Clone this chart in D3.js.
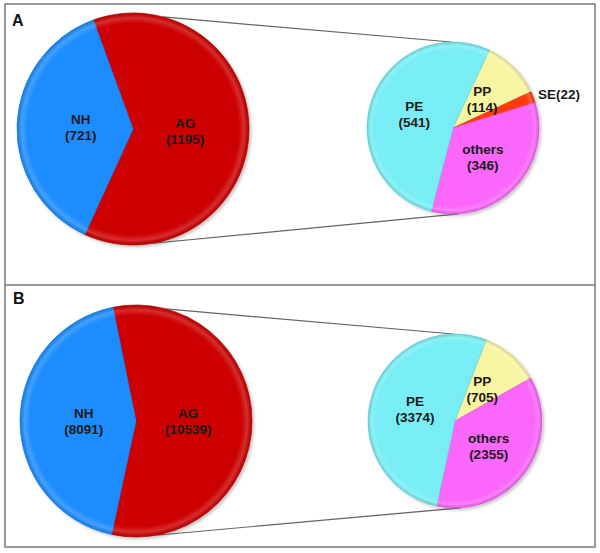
<!DOCTYPE html>
<html>
<head>
<meta charset="utf-8">
<script src="https://cdn.jsdelivr.net/npm/d3@7"></script>
<style>
  body { margin: 0; background: #fff; }
  svg text { font-family: "Liberation Sans", Arial, sans-serif; }
</style>
</head>
<body>
<div id="chart"></div>
<script>
// panel A
const mainLabelsA = ['AG', 'NH'];
const mainValuesA = [1195, 721];
const subLabelsA = ['PP', 'SE', 'others', 'PE'];
const subValuesA = [114, 22, 346, 541];

// panel B
const mainLabelsB = ['AG', 'NH'];
const mainValuesB = [10539, 8091];
const subLabelsB = ['PP', 'others', 'PE'];
const subValuesB = [705, 2355, 3374];

const panelNames = ['A', 'B'];

document.addEventListener('DOMContentLoaded', function () {
  const w = 600, h = 553;
  const colors = {
    AG: '#cc0000', NH: '#1a8cff',
    PE: '#78eef4', PP: '#f8f5a2', SE: '#ff3a0a', others: '#fb66fb'
  };

  let svg = d3.select('#chart')
    .append('svg')
    .attr('width', w)
    .attr('height', h);

  let defs = svg.append('defs');
  let bevel = defs.append('radialGradient').attr('id', 'bevel');
  bevel.append('stop').attr('offset', '0%').attr('stop-color', '#fff').attr('stop-opacity', 0);
  bevel.append('stop').attr('offset', '91%').attr('stop-color', '#fff').attr('stop-opacity', 0);
  bevel.append('stop').attr('offset', '96%').attr('stop-color', '#fff').attr('stop-opacity', 0.18);
  bevel.append('stop').attr('offset', '100%').attr('stop-color', '#000').attr('stop-opacity', 0.1);

  let shadow = defs.append('filter').attr('id', 'shadow')
    .attr('x', '-10%').attr('y', '-10%').attr('width', '125%').attr('height', '125%');
  shadow.append('feDropShadow')
    .attr('dx', 2).attr('dy', 2).attr('stdDeviation', 1.5)
    .attr('flood-color', '#000').attr('flood-opacity', 0.22);

  // frame
  svg.append('rect')
    .attr('x', 5).attr('y', 4).attr('width', 590).attr('height', 543)
    .attr('fill', 'none').attr('stroke', '#7a7a7a').attr('stroke-width', 1.5);
  svg.append('line')
    .attr('x1', 5).attr('x2', 595).attr('y1', 285).attr('y2', 285)
    .attr('stroke', '#7a7a7a').attr('stroke-width', 1.5);

  const deg = Math.PI / 180;

  const panels = [
    {
      name: panelNames[0], labelPos: [12, 26],
      main: { labels: mainLabelsA, values: mainValuesA, cx: 133, cy: 129, r: 116, start: -20 },
      sub: { labels: subLabelsA, values: subValuesA, cx: 453, cy: 128, r: 86, start: 25 }
    },
    {
      name: panelNames[1], labelPos: [13, 304],
      main: { labels: mainLabelsB, values: mainValuesB, cx: 136, cy: 421, r: 116, start: -11.5 },
      sub: { labels: subLabelsB, values: subValuesB, cx: 455, cy: 421, r: 87, start: 21 }
    }
  ];

  // point on circle, angle clockwise from 12 o'clock
  function onCircle(p, a) {
    return [p.cx + p.r * Math.sin(a * deg), p.cy - p.r * Math.cos(a * deg)];
  }

  panels.forEach(panel => {
    // connector lines
    let links = [[onCircle(panel.main, 15), onCircle(panel.sub, -1)],
                 [onCircle(panel.main, 170), onCircle(panel.sub, 176)]];
    svg.selectAll(null)
      .data(links)
      .enter()
      .append('line')
      .attr('x1', d => d[0][0]).attr('y1', d => d[0][1])
      .attr('x2', d => d[1][0]).attr('y2', d => d[1][1])
      .attr('stroke', '#666').attr('stroke-width', 1.2);

    drawPie(panel.main, 0.45);
    drawPie(panel.sub, 0.48);

    svg.append('text')
      .attr('x', panel.labelPos[0]).attr('y', panel.labelPos[1])
      .attr('font-size', 16).attr('font-weight', 'bold')
      .attr('fill', '#111')
      .text(panel.name);
  });

  function drawPie(p, labelFrac) {
    let data = p.labels.map((l, i) => ({ label: l, value: p.values[i] }));
    let pie = d3.pie()
      .sort(null)
      .value(d => d.value)
      .startAngle(p.start * deg)
      .endAngle(p.start * deg + 2 * Math.PI);
    let arc = d3.arc().innerRadius(0).outerRadius(p.r);
    let labelArc = d3.arc().innerRadius(p.r * labelFrac).outerRadius(p.r * labelFrac);
    let total = d3.sum(p.values);

    let g = svg.append('g')
      .attr('transform', 'translate(' + p.cx + ',' + p.cy + ')');

    let slices = g.append('g').attr('filter', 'url(#shadow)');
    slices.selectAll('path')
      .data(pie(data))
      .enter()
      .append('path')
      .attr('d', arc)
      .attr('fill', d => colors[d.data.label])
      .attr('stroke', d => d3.color(colors[d.data.label]).darker(0.3))
      .attr('stroke-width', 0.7);

    g.append('circle')
      .attr('r', p.r)
      .attr('fill', 'url(#bevel)')
      .attr('pointer-events', 'none');

    pie(data).forEach(d => {
      let small = d.data.value / total < 0.05;
      if (small) {
        let mid = (d.startAngle + d.endAngle) / 2;
        let rr = p.r + 5;
        g.append('text')
          .attr('x', rr * Math.sin(mid))
          .attr('y', -rr * Math.cos(mid) + 4)
          .attr('font-size', 13.5).attr('font-weight', 'bold')
          .attr('fill', '#1a1a1a')
          .text(d.data.label + '(' + d.data.value + ')');
        return;
      }
      let c = labelArc.centroid(d);
      let t = g.append('text')
        .attr('text-anchor', 'middle')
        .attr('font-size', 13.5).attr('font-weight', 'bold')
        .attr('fill', '#1a1a1a');
      t.append('tspan').attr('x', c[0]).attr('y', c[1] - 3).text(d.data.label);
      t.append('tspan').attr('x', c[0]).attr('y', c[1] + 13).text('(' + d.data.value + ')');
    });
  }
});
</script>
</body>
</html>
